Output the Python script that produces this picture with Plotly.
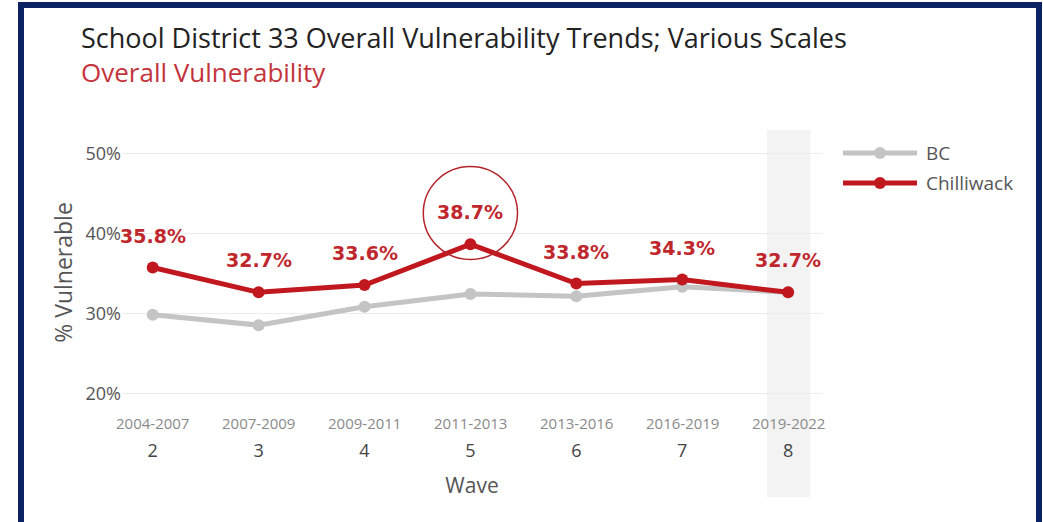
import plotly.graph_objects as go

# Wave numbers, survey years and overall vulnerability (share of children vulnerable)
waves = [2, 3, 4, 5, 6, 7, 8]
years = ["2004-2007", "2007-2009", "2009-2011", "2011-2013", "2013-2016", "2016-2019", "2019-2022"]
bc = [0.299, 0.286, 0.309, 0.325, 0.322, 0.334, 0.327]
chilliwack = [0.358, 0.327, 0.336, 0.387, 0.338, 0.343, 0.327]
series_names = ["BC", "Chilliwack"]
y_ticks = [0.2, 0.3, 0.4, 0.5]

RED = "#c1181f"
LABEL_RED = "#c0272d"
GREY = "#c4c4c4"
NAVY = "#0b2365"

W, H = 1043, 522
L, R, T, B = 122, 221, 139, 116
PW, PH = W - L - R, H - T - B


def px(x):
    return (x - L) / PW


def py(y):
    return (H - B - y) / PH


fig = go.Figure()

fig.add_trace(go.Scatter(
    x=waves, y=bc, mode="lines+markers", name=series_names[0],
    line=dict(color=GREY, width=5), marker=dict(color=GREY, size=12),
    showlegend=False, hoverinfo="skip",
))
fig.add_trace(go.Scatter(
    x=waves, y=chilliwack, mode="lines+markers", name=series_names[1],
    line=dict(color=RED, width=5), marker=dict(color=RED, size=12),
    showlegend=False, hoverinfo="skip",
))

# value labels above the Chilliwack points
annotations = []
for w, v in zip(waves, chilliwack):
    annotations.append(dict(
        x=w, y=v, xref="x", yref="y", text=f"{v * 100:.1f}%", showarrow=False,
        yshift=32, font=dict(family="DejaVu Sans", size=19, color=LABEL_RED, weight="bold"),
    ))

# survey years above the wave numbers on the x axis
for w, yr in zip(waves, years):
    annotations.append(dict(
        x=w, y=py(423), xref="x", yref="paper", yanchor="middle", text=yr, showarrow=False,
        font=dict(family="Open Sans", size=15, color="#8a8a8a"),
    ))

# titles
annotations.append(dict(
    x=px(79), y=py(38), xref="paper", yref="paper", xanchor="left", yanchor="middle",
    text="School District 33 Overall Vulnerability Trends; Various Scales", showarrow=False,
    font=dict(family="Open Sans", size=27, color="#222222"),
))
annotations.append(dict(
    x=px(79), y=py(72), xref="paper", yref="paper", xanchor="left", yanchor="middle",
    text="Overall Vulnerability", showarrow=False,
    font=dict(family="Open Sans", size=26, color="#c4343c"),
))

# legend
shapes = []
legend_rows = [(series_names[0], GREY, 153), (series_names[1], RED, 183)]
for name, color, yy in legend_rows:
    shapes.append(dict(type="line", xref="paper", yref="paper",
                       x0=px(843), x1=px(917), y0=py(yy), y1=py(yy),
                       line=dict(color=color, width=5)))
    shapes.append(dict(type="circle", xref="paper", yref="paper",
                       x0=px(874), x1=px(886), y0=py(yy + 6), y1=py(yy - 6),
                       fillcolor=color, line=dict(width=0)))
    annotations.append(dict(
        x=px(924), y=py(yy), xref="paper", yref="paper", xanchor="left", yanchor="middle",
        text=name, showarrow=False, font=dict(family="Open Sans", size=19, color="#555555"),
    ))

# highlighted column for the latest wave
shapes.append(dict(type="rect", xref="x", yref="paper", x0=7.8, x1=8.21,
                   y0=py(497), y1=py(130), fillcolor="#f3f3f3", line=dict(width=0), layer="below"))

# circle highlighting the peak wave
peak = chilliwack.index(max(chilliwack))
shapes.append(dict(type="circle", xref="x", yref="y",
                   x0=waves[peak] - 0.445, x1=waves[peak] + 0.445,
                   y0=max(chilliwack) - 0.019, y1=max(chilliwack) + 0.097,
                   line=dict(color="#b3252b", width=1.5)))

# outer frame
shapes.append(dict(type="rect", xref="paper", yref="paper",
                   x0=px(21), x1=px(1039), y0=py(525), y1=py(5),
                   line=dict(color=NAVY, width=6)))

fig.update_layout(
    width=W, height=H,
    margin=dict(l=L, r=R, t=T, b=B),
    paper_bgcolor="white", plot_bgcolor="white",
    font=dict(family="Open Sans", color="#555555"),
    xaxis=dict(
        range=[1.71, 8.32], tickvals=waves, ticktext=[str(w) for w in waves],
        tickfont=dict(size=18, color="#444444"), ticklabelstandoff=32,
        showgrid=False, zeroline=False, showline=False, ticks="",
        title=dict(text="Wave", font=dict(size=21, color="#555555"), standoff=17),
    ),
    yaxis=dict(
        range=[0.185, 0.5185], tickvals=y_ticks, tickformat=".0%",
        tickfont=dict(size=18, color="#555555"),
        showgrid=True, gridcolor="#ececec", gridwidth=1, zeroline=False, showline=False,
        ticks="", title=dict(text="% Vulnerable", font=dict(size=23, color="#555555"), standoff=6),
    ),
    annotations=annotations,
    shapes=shapes,
    showlegend=False,
)

fig.write_html("out.html")
